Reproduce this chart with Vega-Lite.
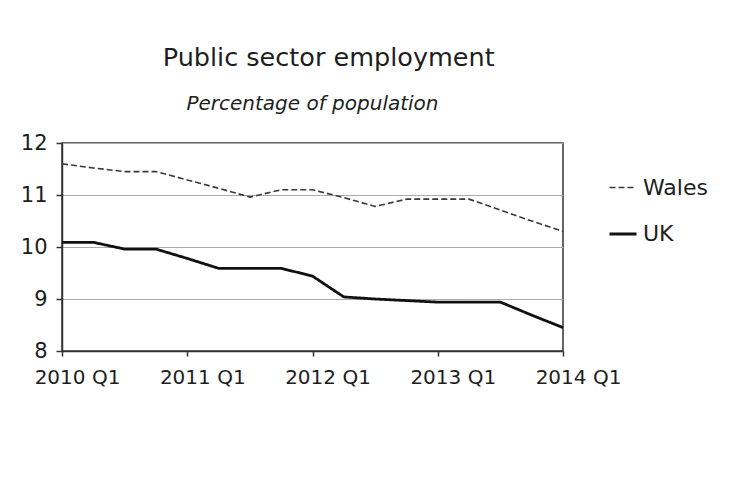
{
  "$schema": "https://vega.github.io/schema/vega-lite/v6.json",
  "width": 501,
  "height": 208,
  "autosize": {"type": "none"},
  "padding": {"left": 62, "top": 143, "right": 169, "bottom": 135},
  "background": "white",
  "title": {
    "text": "\u200b\u00a0\u00a0\u00a0\u00a0Public sector employment",
    "subtitle": "Percentage of population",
    "anchor": "middle",
    "frame": "group",
    "font": "DejaVu Sans",
    "fontSize": 25.5,
    "fontWeight": "normal",
    "color": "#1e1e1e",
    "subtitleFont": "DejaVu Sans",
    "subtitleFontSize": 20,
    "subtitleFontStyle": "italic",
    "subtitleColor": "#1e1e1e",
    "subtitlePadding": 23,
    "offset": 18
  },
  "data": {
    "values": [
      {"quarter": "2010 Q1", "series": "Wales", "pct": 11.6},
      {"quarter": "2010 Q2", "series": "Wales", "pct": 11.52},
      {"quarter": "2010 Q3", "series": "Wales", "pct": 11.45},
      {"quarter": "2010 Q4", "series": "Wales", "pct": 11.45},
      {"quarter": "2011 Q1", "series": "Wales", "pct": 11.29},
      {"quarter": "2011 Q2", "series": "Wales", "pct": 11.13},
      {"quarter": "2011 Q3", "series": "Wales", "pct": 10.96},
      {"quarter": "2011 Q4", "series": "Wales", "pct": 11.1},
      {"quarter": "2012 Q1", "series": "Wales", "pct": 11.1},
      {"quarter": "2012 Q2", "series": "Wales", "pct": 10.95},
      {"quarter": "2012 Q3", "series": "Wales", "pct": 10.78},
      {"quarter": "2012 Q4", "series": "Wales", "pct": 10.92},
      {"quarter": "2013 Q1", "series": "Wales", "pct": 10.92},
      {"quarter": "2013 Q2", "series": "Wales", "pct": 10.92},
      {"quarter": "2013 Q3", "series": "Wales", "pct": 10.71},
      {"quarter": "2013 Q4", "series": "Wales", "pct": 10.5},
      {"quarter": "2014 Q1", "series": "Wales", "pct": 10.3},
      {"quarter": "2010 Q1", "series": "UK", "pct": 10.09},
      {"quarter": "2010 Q2", "series": "UK", "pct": 10.09},
      {"quarter": "2010 Q3", "series": "UK", "pct": 9.96},
      {"quarter": "2010 Q4", "series": "UK", "pct": 9.96},
      {"quarter": "2011 Q1", "series": "UK", "pct": 9.78},
      {"quarter": "2011 Q2", "series": "UK", "pct": 9.59},
      {"quarter": "2011 Q3", "series": "UK", "pct": 9.59},
      {"quarter": "2011 Q4", "series": "UK", "pct": 9.59},
      {"quarter": "2012 Q1", "series": "UK", "pct": 9.44},
      {"quarter": "2012 Q2", "series": "UK", "pct": 9.04},
      {"quarter": "2012 Q3", "series": "UK", "pct": 9.0},
      {"quarter": "2012 Q4", "series": "UK", "pct": 8.97},
      {"quarter": "2013 Q1", "series": "UK", "pct": 8.94},
      {"quarter": "2013 Q2", "series": "UK", "pct": 8.94},
      {"quarter": "2013 Q3", "series": "UK", "pct": 8.94},
      {"quarter": "2013 Q4", "series": "UK", "pct": 8.69},
      {"quarter": "2014 Q1", "series": "UK", "pct": 8.45}
    ]
  },
  "mark": {"type": "line", "strokeCap": "butt", "strokeJoin": "miter"},
  "encoding": {
    "x": {
      "field": "quarter",
      "type": "ordinal",
      "sort": null,
      "scale": {"type": "point", "padding": 0},
      "axis": {
        "title": null,
        "values": ["2010 Q1", "2011 Q1", "2012 Q1", "2013 Q1", "2014 Q1"],
        "labelAngle": 0,
        "labelFont": "DejaVu Sans",
        "labelFontSize": 20,
        "labelColor": "#1e1e1e",
        "labelOffset": 15,
        "labelPadding": 11,
        "tickSize": 5,
        "tickColor": "#333",
        "tickWidth": 1.5,
        "domainColor": "#333",
        "domainWidth": 1.5,
        "grid": false
      }
    },
    "y": {
      "field": "pct",
      "type": "quantitative",
      "scale": {"domain": [8, 12], "nice": false, "zero": false},
      "axis": {
        "title": null,
        "values": [8, 9, 10, 11, 12],
        "labelFont": "DejaVu Sans",
        "labelFontSize": 21,
        "labelColor": "#1e1e1e",
        "labelPadding": 9,
        "tickSize": 6,
        "tickColor": "#333",
        "tickWidth": 1.5,
        "domainColor": "#333",
        "domainWidth": 1.5,
        "grid": true,
        "gridColor": "#aaaaaa",
        "gridWidth": 1
      }
    },
    "color": {
      "field": "series",
      "type": "nominal",
      "sort": ["Wales", "UK"],
      "scale": {"domain": ["Wales", "UK"], "range": ["#3a3a3a", "#111111"]},
      "legend": {
        "title": null,
        "orient": "none",
        "legendX": 546,
        "legendY": 30,
        "symbolType": "stroke",
        "symbolSize": 729,
        "labelFont": "DejaVu Sans",
        "labelFontSize": 22,
        "labelColor": "#1e1e1e",
        "labelOffset": 5,
        "rowPadding": 20
      }
    },
    "strokeDash": {
      "field": "series",
      "type": "nominal",
      "sort": ["Wales", "UK"],
      "scale": {"domain": ["Wales", "UK"], "range": [[6, 3], [1, 0]]},
      "legend": {"title": null}
    },
    "strokeWidth": {
      "field": "series",
      "type": "nominal",
      "sort": ["Wales", "UK"],
      "scale": {"domain": ["Wales", "UK"], "range": [1.6, 2.8]},
      "legend": {"title": null}
    }
  },
  "config": {
    "view": {"stroke": "#333", "strokeWidth": 1.5},
    "font": "DejaVu Sans"
  }
}
